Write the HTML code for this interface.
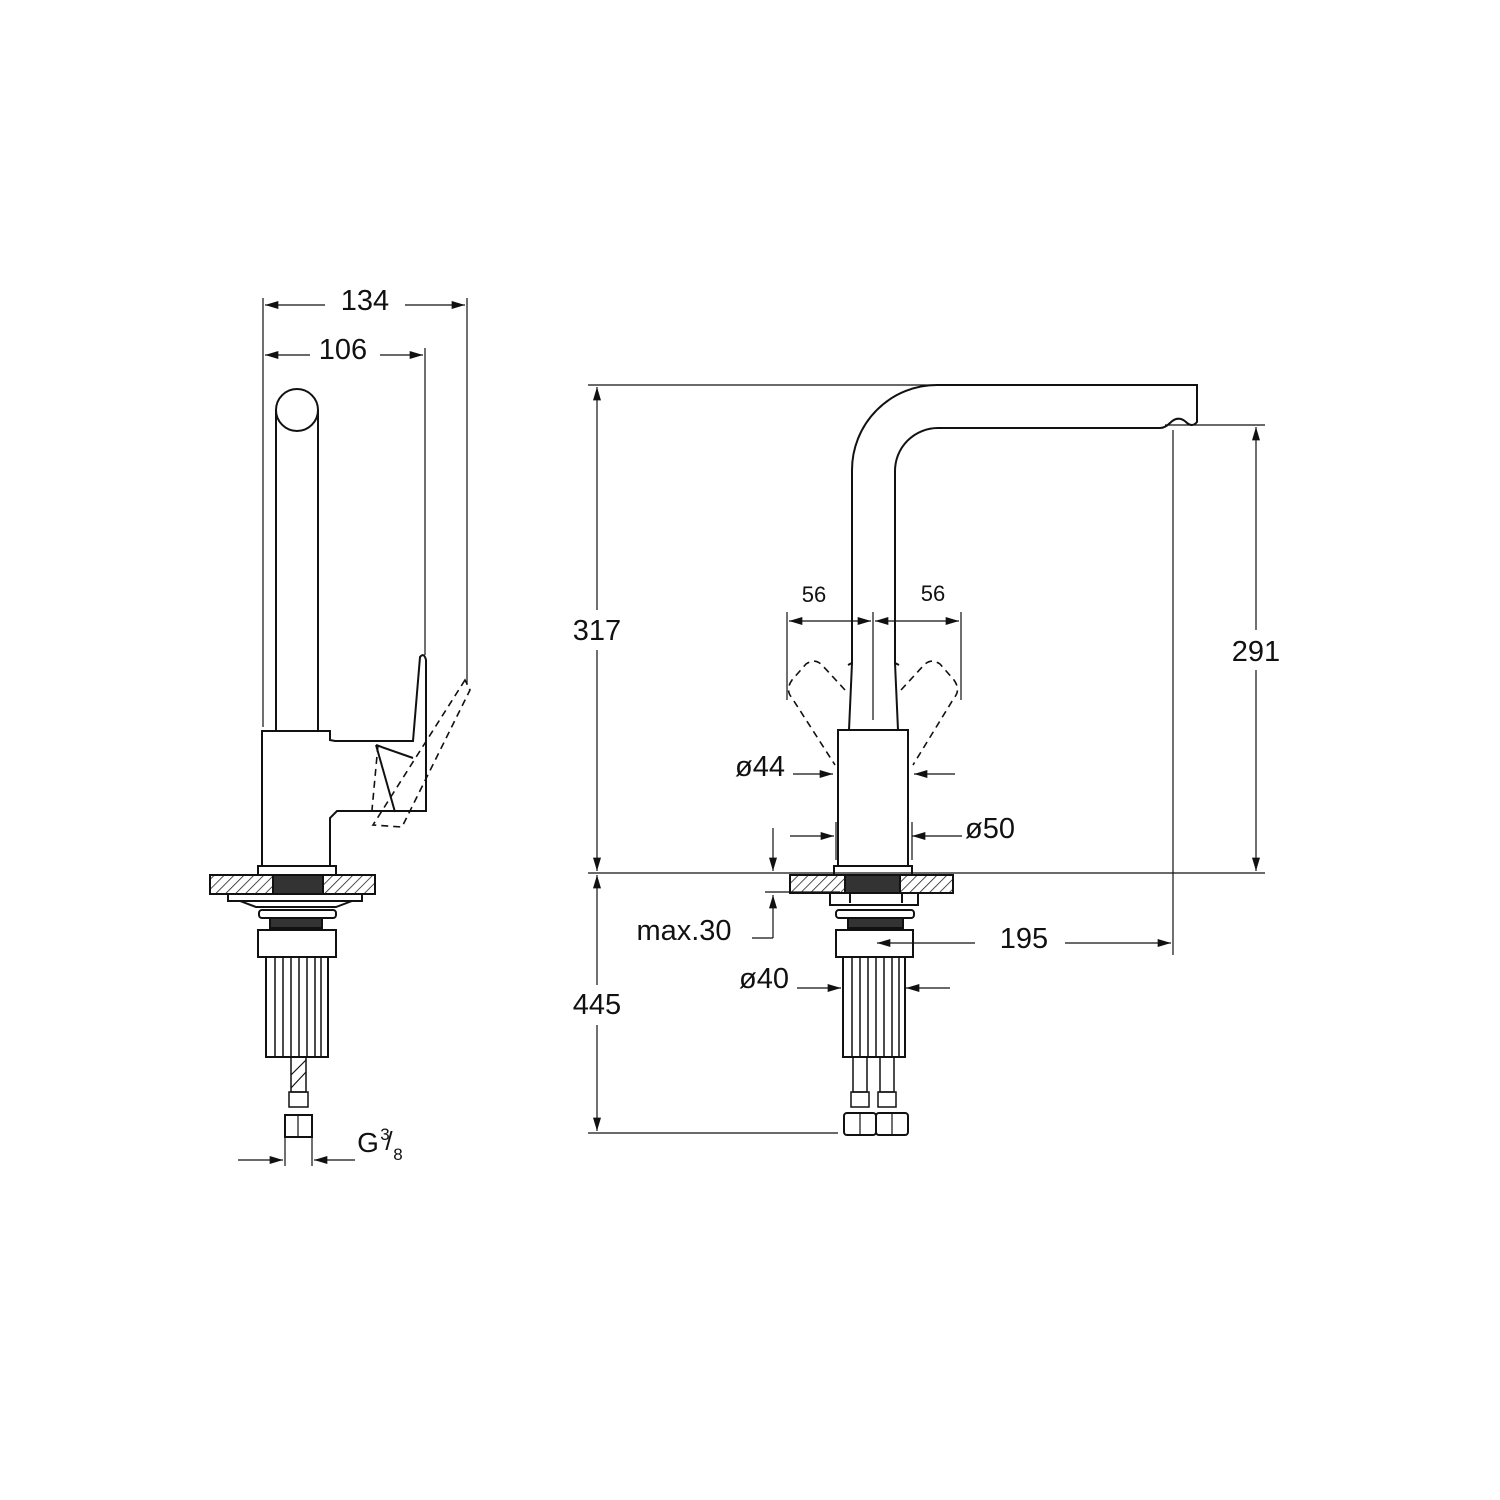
<!DOCTYPE html>
<html><head><style>html,body{margin:0;padding:0;background:#fff}svg{display:block}</style></head><body>
<svg width="1500" height="1500" viewBox="0 0 1500 1500" xmlns="http://www.w3.org/2000/svg" font-family="Liberation Sans, sans-serif">
<defs>
<pattern id="h" width="7" height="7" patternUnits="userSpaceOnUse" patternTransform="rotate(45)"><line x1="0" y1="0" x2="0" y2="7" stroke="#222" stroke-width="1.6"/></pattern>
<marker id="a" viewBox="0 0 10 6" refX="10" refY="3" markerWidth="18" markerHeight="8" markerUnits="userSpaceOnUse" orient="auto-start-reverse"><path d="M0,0 L10,3 L0,6z" fill="#111"/></marker>
</defs>
<rect width="1500" height="1500" fill="#fff"/>
<g stroke="#111" fill="none" stroke-width="2">
<!-- LEFT VIEW dims -->
<g stroke-width="1.2">
<line x1="263" y1="298" x2="263" y2="727"/><line x1="467" y1="298" x2="467" y2="685"/>
<line x1="425" y1="348" x2="425" y2="655"/>
<line x1="265" y1="305" x2="325" y2="305" marker-start="url(#a)"/><line x1="405" y1="305" x2="465" y2="305" marker-end="url(#a)"/>
<line x1="265" y1="355" x2="310" y2="355" marker-start="url(#a)"/><line x1="380" y1="355" x2="423" y2="355" marker-end="url(#a)"/>
<line x1="238" y1="1160" x2="283" y2="1160" marker-end="url(#a)"/><line x1="355" y1="1160" x2="314" y2="1160" marker-end="url(#a)"/>
<line x1="285" y1="1138" x2="285" y2="1166"/><line x1="312" y1="1138" x2="312" y2="1166"/>
</g>
<circle cx="297" cy="410" r="21"/>
<line x1="276" y1="410" x2="276" y2="731"/><line x1="318" y1="410" x2="318" y2="731"/>
<path d="M262,867 V731 H330 V740 L335,741 H413 L420,657 Q424,652 426,660 V811 H337 L330,818 V867"/>
<path d="M376,745 L395,812" /><path d="M376,745 L413,758"/>
<path d="M465,680 L373,825 L402,827 L470,690 Z" stroke-dasharray="7,5" stroke-width="1.6"/>
<path d="M378,745 L372,810" stroke-dasharray="7,5" stroke-width="1.6"/>
<rect x="258" y="866" width="78" height="9"/>
<rect x="210" y="875" width="165" height="19" fill="url(#h)"/>
<rect x="273" y="875" width="50" height="19" fill="#333"/>
<rect x="228" y="894" width="134" height="7"/>
<path d="M240,901 L256,907 H336 L352,901"/>
<rect x="259" y="910" width="77" height="8" rx="3"/>
<rect x="270" y="918" width="52" height="10" fill="#333"/>
<rect x="258" y="930" width="78" height="27"/>
<rect x="266" y="957" width="62" height="100"/>
<g stroke-width="1.5"><line x1="275" y1="957" x2="275" y2="1057"/><line x1="283" y1="957" x2="283" y2="1057"/><line x1="291" y1="957" x2="291" y2="1057"/><line x1="299" y1="957" x2="299" y2="1057"/><line x1="307" y1="957" x2="307" y2="1057"/><line x1="315" y1="957" x2="315" y2="1057"/><line x1="321" y1="957" x2="321" y2="1057"/></g>
<rect x="291" y="1057" width="15" height="35" stroke-width="1.5"/>
<path d="M291,1075 L306,1060 M291,1088 L306,1072" stroke-width="1.2"/>
<rect x="289" y="1092" width="19" height="15" stroke-width="1.5"/>
<rect x="285" y="1115" width="27" height="22"/><line x1="298" y1="1115" x2="298" y2="1137" stroke-width="1.2"/>

<!-- RIGHT VIEW dims -->
<g stroke-width="1.2">
<line x1="588" y1="385" x2="935" y2="385"/>
<line x1="588" y1="873" x2="1265" y2="873"/>
<line x1="588" y1="1133" x2="838" y2="1133"/>
<line x1="1165" y1="425" x2="1265" y2="425"/>
<line x1="597" y1="387" x2="597" y2="610" marker-start="url(#a)"/><line x1="597" y1="650" x2="597" y2="871" marker-end="url(#a)"/>
<line x1="597" y1="875" x2="597" y2="985" marker-start="url(#a)"/><line x1="597" y1="1025" x2="597" y2="1131" marker-end="url(#a)"/>
<line x1="1256" y1="427" x2="1256" y2="630" marker-start="url(#a)"/><line x1="1256" y1="670" x2="1256" y2="871" marker-end="url(#a)"/>
<line x1="1173" y1="430" x2="1173" y2="955"/>
<line x1="877" y1="943" x2="975" y2="943" marker-start="url(#a)"/><line x1="1065" y1="943" x2="1171" y2="943" marker-end="url(#a)"/>
<line x1="873" y1="612" x2="873" y2="720"/>
<line x1="787" y1="612" x2="787" y2="700"/><line x1="961" y1="612" x2="961" y2="700"/>
<line x1="789" y1="621" x2="871" y2="621" marker-start="url(#a)" marker-end="url(#a)"/>
<line x1="875" y1="621" x2="959" y2="621" marker-start="url(#a)" marker-end="url(#a)"/>
<line x1="793" y1="774" x2="833" y2="774" marker-end="url(#a)"/><line x1="955" y1="774" x2="914" y2="774" marker-end="url(#a)"/>
<line x1="790" y1="836" x2="834" y2="836" marker-end="url(#a)"/><line x1="962" y1="836" x2="912" y2="836" marker-end="url(#a)"/>
<line x1="836" y1="822" x2="836" y2="860"/><line x1="912" y1="822" x2="912" y2="860"/>
<line x1="797" y1="988" x2="841" y2="988" marker-end="url(#a)"/><line x1="950" y1="988" x2="906" y2="988" marker-end="url(#a)"/>
<line x1="773" y1="828" x2="773" y2="871" marker-end="url(#a)"/>
<line x1="773" y1="938" x2="773" y2="895" marker-end="url(#a)"/>
<line x1="752" y1="938" x2="773" y2="938"/>
<line x1="765" y1="892" x2="840" y2="892"/>
</g>
<path d="M852,663 V470 A85,85 0 0 1 937,385 H1197 V422 Q1192,428 1186,422 Q1178,415 1170,423 Q1165,428 1160,428 H938 A43,43 0 0 0 895,471 V663"/>
<path d="M849,730 L852,663 M898,730 L895,663" />
<path d="M852,663 L848,665 M895,663 L899,665"/>
<path d="M845,690 L822,665 Q815,658 806,664 L792,680 Q785,690 792,698 L835,765 M901,690 L924,665 Q931,658 940,664 L954,680 Q961,690 954,698 L913,765" stroke-dasharray="7,5" stroke-width="1.6"/>
<rect x="838" y="730" width="70" height="136"/>
<rect x="834" y="866" width="78" height="9"/>
<rect x="790" y="875" width="163" height="18" fill="url(#h)"/>
<rect x="845" y="875" width="55" height="18" fill="#333"/>
<path d="M850,893 V903 M902,893 V903"/>
<rect x="830" y="893" width="88" height="12"/>
<rect x="836" y="910" width="78" height="8" rx="3"/>
<rect x="848" y="918" width="55" height="10" fill="#333"/>
<rect x="836" y="930" width="77" height="27"/>
<rect x="843" y="957" width="62" height="100"/>
<g stroke-width="1.5"><line x1="852" y1="957" x2="852" y2="1057"/><line x1="860" y1="957" x2="860" y2="1057"/><line x1="868" y1="957" x2="868" y2="1057"/><line x1="876" y1="957" x2="876" y2="1057"/><line x1="884" y1="957" x2="884" y2="1057"/><line x1="892" y1="957" x2="892" y2="1057"/><line x1="899" y1="957" x2="899" y2="1057"/></g>
<rect x="853" y="1057" width="14" height="35" stroke-width="1.5"/><rect x="880" y="1057" width="14" height="35" stroke-width="1.5"/>
<rect x="851" y="1092" width="18" height="15" stroke-width="1.5"/><rect x="878" y="1092" width="18" height="15" stroke-width="1.5"/>
<rect x="844" y="1113" width="32" height="22" rx="3"/><rect x="876" y="1113" width="32" height="22" rx="3"/>
<line x1="860" y1="1113" x2="860" y2="1135" stroke-width="1.2"/><line x1="892" y1="1113" x2="892" y2="1135" stroke-width="1.2"/>
</g>
<g fill="#111" font-size="29" text-anchor="middle">
<text x="365" y="310">134</text>
<text x="343" y="359">106</text>
<text x="597" y="640">317</text>
<text x="597" y="1014">445</text>
<text x="1256" y="661">291</text>
<text x="1024" y="948">195</text>
<text x="760" y="776">ø44</text>
<text x="990" y="838">ø50</text>
<text x="684" y="940">max.30</text>
<text x="764" y="988">ø40</text>
<text x="814" y="602" font-size="22">56</text>
<text x="933" y="601" font-size="22">56</text>
<text x="368" y="1152" font-size="28">G</text>
<text x="385" y="1140" font-size="17">3</text>
<text x="389" y="1150" font-size="26">/</text>
<text x="398" y="1160" font-size="17">8</text>
</g>
</svg>
</body></html>
